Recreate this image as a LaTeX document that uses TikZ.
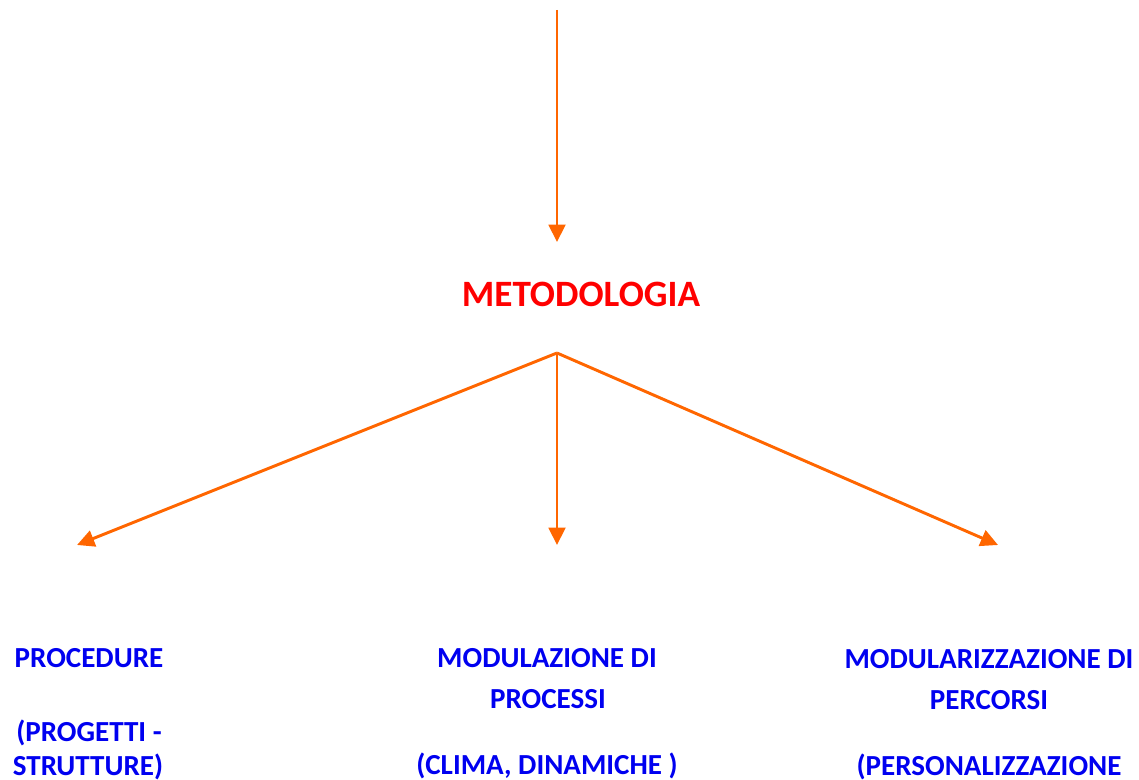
\documentclass[tikz,border=0pt]{standalone}
\usepackage{fontspec}
\setmainfont{Carlito}
\usetikzlibrary{arrows.meta}
\definecolor{arr}{RGB}{255,102,0}
\definecolor{blu}{RGB}{0,0,240}
\definecolor{rd}{RGB}{255,0,0}
\tikzset{
  conn/.style={draw=arr, line width=2.2pt, -{Triangle[length=13pt,width=12.5pt]}},
  bl/.style={text=blu, font=\fontsize{21.8}{26}\selectfont\bfseries, anchor=base, inner sep=0pt},
  title/.style={text=rd, font=\fontsize{27.9}{33}\selectfont\bfseries, anchor=base, inner sep=0pt}
}
\begin{document}
\begin{tikzpicture}[x=0.75pt,y=-0.75pt]
\useasboundingbox (0,0) rectangle (1139,780);
\coordinate (top) at (557,10);
\coordinate (mtip) at (557,242);
\coordinate (split) at (557,353);
\coordinate (ltip) at (77,545);
\coordinate (ctip) at (557,545);
\coordinate (rtip) at (998,545);
\node[title] (met) at (581,307) {METODOLOGIA};
\draw[conn] (top) -- (mtip);
\draw[conn] (split) -- (ltip);
\draw[conn] (split) -- (ctip);
\draw[conn] (split) -- (rtip);
\node[bl] (l1) at (89,667) {PROCEDURE};
\node[bl] (l2) at (89,741) {(PROGETTI -};
\node[bl] (l3) at (88,775) {STRUTTURE)};
\node[bl] (c1) at (547,667) {MODULAZIONE DI};
\node[bl] (c2) at (548,708) {PROCESSI};
\node[bl] (c3) at (547,774) {(CLIMA, DINAMICHE )};
\node[bl] (r1) at (989,668) {MODULARIZZAZIONE DI};
\node[bl] (r2) at (989,709) {PERCORSI};
\node[bl] (r3) at (989,775) {(PERSONALIZZAZIONE};
\end{tikzpicture}
\end{document}
